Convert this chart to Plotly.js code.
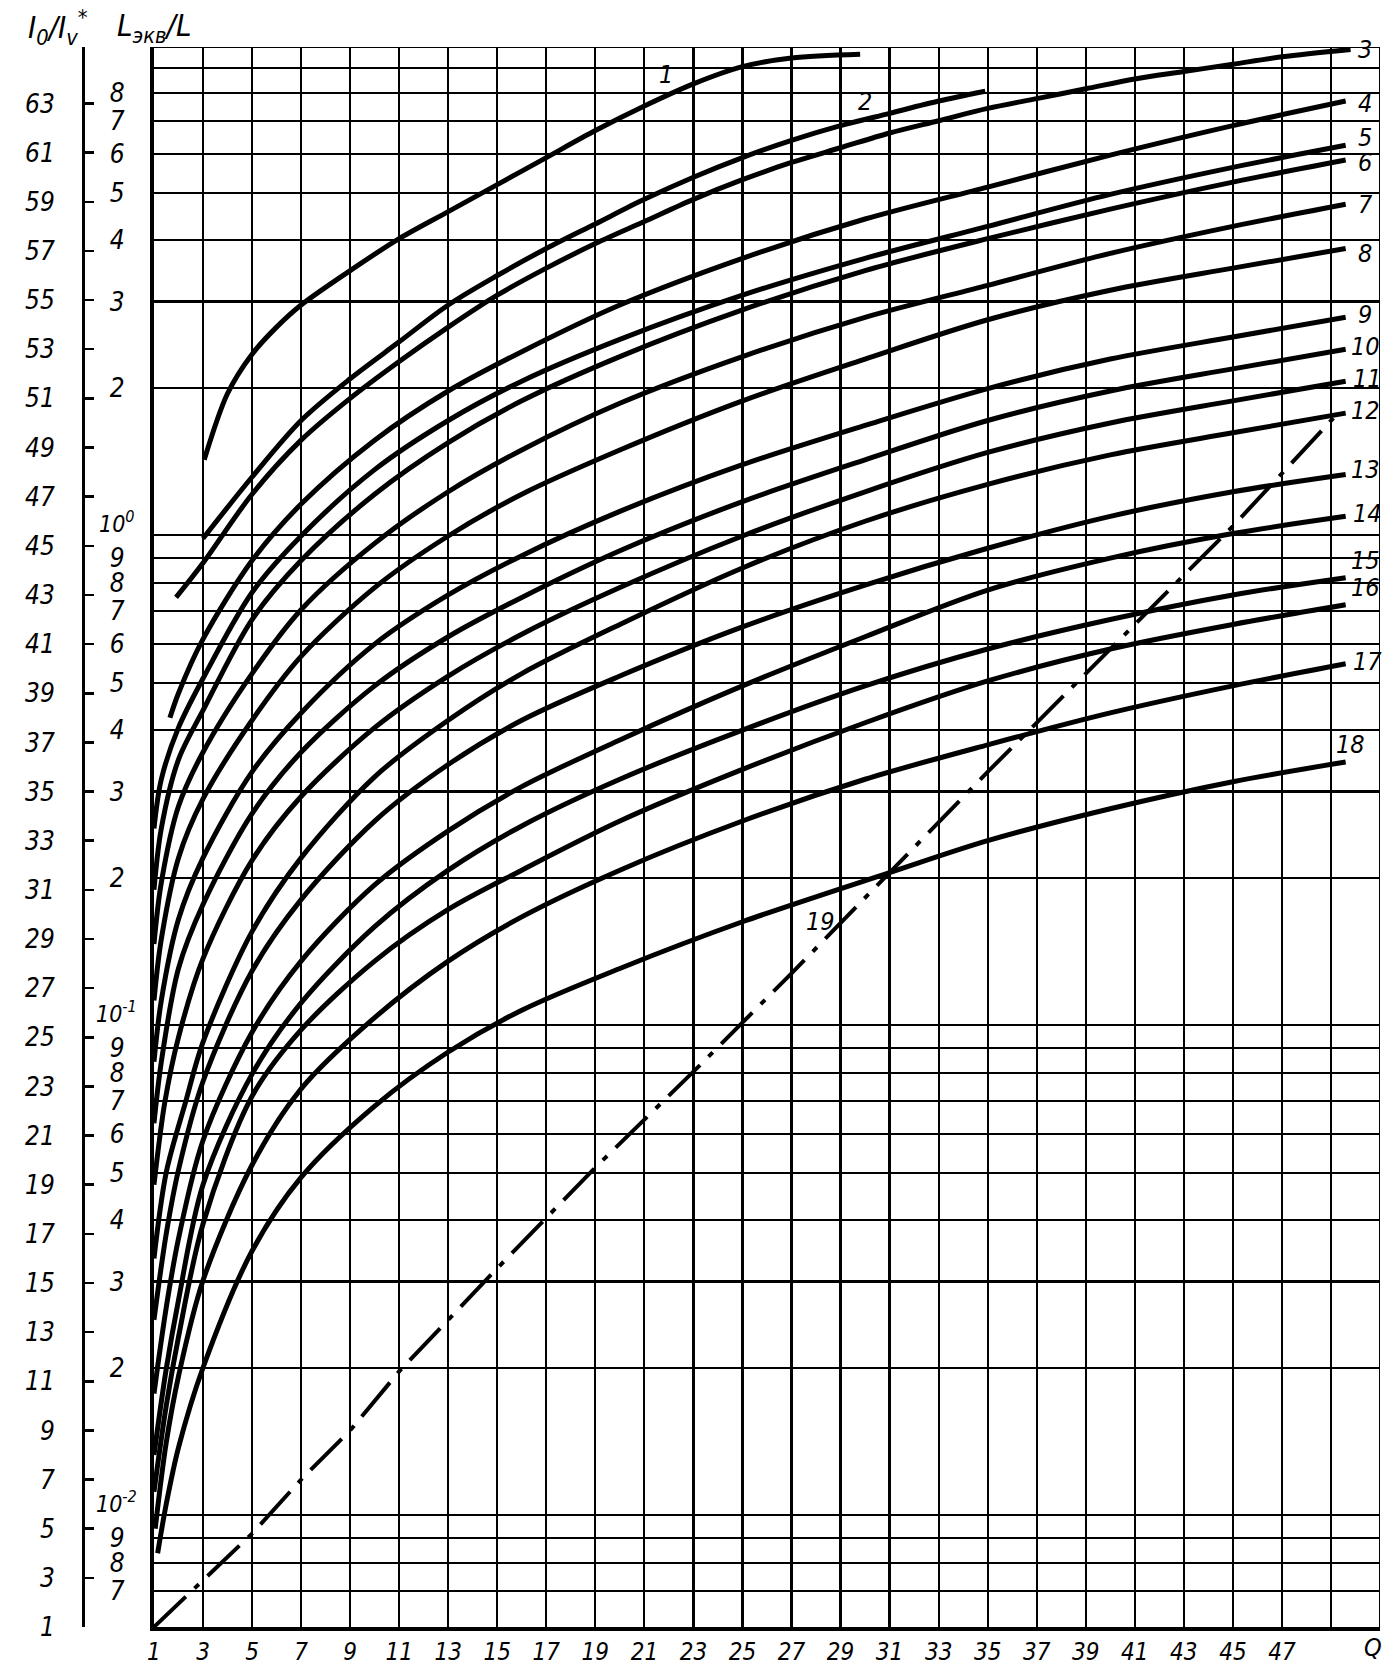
<!DOCTYPE html>
<html><head><meta charset="utf-8">
<script src="https://cdn.plot.ly/plotly-3.0.1.min.js"></script>
<style>html,body{margin:0;padding:0;background:#fff}#chart{width:1390px;height:1668px}</style>
</head><body><div id="chart"></div>
<script>
// ---- axis ticks ----
const xTickVals = [1,3,5,7,9,11,13,15,17,19,21,23,25,27,29,31,33,35,37,39,41,43,45,47,49];
const xTickText = ['1','3','5','7','9','11','13','15','17','19','21','23','25','27','29','31','33','35','37','39','41','43','45','47',''];
const ioTickVals = [1,3,5,7,9,11,13,15,17,19,21,23,25,27,29,31,33,35,37,39,41,43,45,47,49,51,53,55,57,59,61,63,65.3];
const ioTickText = ['1','3','5','7','9','11','13','15','17','19','21','23','25','27','29','31','33','35','37','39','41','43','45','47','49','51','53','55','57','59','61','63',''];
const lTickVals = [0.007,0.008,0.009,0.01,0.02,0.03,0.04,0.05,0.06,0.07,0.08,0.09,0.1,0.2,0.3,0.4,0.5,0.6,0.7,0.8,0.9,1,2,3,4,5,6,7,8,9];
const lTickText = ['7','8','9','','2','3','4','5','6','7','8','9','','2','3','4','5','6','7','8','9','','2','3','4','5','6','7','8',''];
const decadeVals = [0.01, 0.1, 1];
const decadeText = ['10<sup>-2</sup>','10<sup>-1</sup>','10<sup>0</sup>'];

// ---- curves (values on the I0/Iv* scale) ----
const c1x = [3.05,4,5,6,7,9,11,13,15,17,19,21,23,25,27,29.8];
const c1y = [48.5,51.2,52.8,53.9,54.8,56.2,57.5,58.6,59.7,60.8,61.9,62.9,63.8,64.5,64.85,65.0];
const c2x = [3,5,7,9,11,13,15,17,19,21,23,25,27,29,31,33,34.9];
const c2y = [45.3,47.8,50.1,51.8,53.3,54.8,56.0,57.1,58.1,59.1,60.0,60.8,61.5,62.1,62.6,63.1,63.5];
const c3x = [1.9,3,5,7,9,11,13,15,17,19,21,23,25,27,29,31,33,35,37,39,41,43,45,47,49.8];
const c3y = [42.9,44.3,47.1,49.3,51.0,52.5,53.9,55.2,56.3,57.3,58.2,59.1,59.9,60.6,61.2,61.8,62.3,62.8,63.2,63.6,64.0,64.3,64.6,64.9,65.2];
const c4x = [1.65,2,3,5,7,10,13,16,20,25,30,35,40,45,49.6];
const c4y = [38.0,39.0,41.2,44.4,46.7,49.3,51.3,52.9,54.8,56.7,58.3,59.6,60.9,62.1,63.1];
const xStd = [1,1.3,2,3,5,7,10,13,16,20,25,30,35,40,45,49.6];
const c5y = [33.5,35.5,37.6,39.6,43.1,45.4,48.1,50.1,51.7,53.4,55.2,56.7,58.0,59.3,60.4,61.3];
const c6y = [31.0,33.5,36.3,38.3,42.0,44.4,47.1,49.2,50.9,52.7,54.6,56.2,57.5,58.7,59.8,60.7];
const c7y = [28.8,31.3,34.4,36.6,39.8,42.4,45.1,47.2,48.9,50.8,52.7,54.3,55.6,56.9,58.0,58.9];
const c8y = [26.5,29.0,32.3,34.7,37.9,40.5,43.3,45.4,47.1,48.9,50.9,52.6,54.2,55.4,56.3,57.1];
const c9y = [24.0,26.5,29.8,32.3,35.8,38.2,41.0,43.0,44.6,46.4,48.3,49.9,51.4,52.6,53.5,54.3];
const c10y = [21.5,24.0,27.8,30.4,34.1,36.6,39.3,41.3,42.9,44.8,46.8,48.5,50.1,51.3,52.2,53.0];
const c11x = [1,1.45,2,3,5,7,10,13,16,20,25,30,35,40,45,49.6];
const c11y = [19.0,22.4,25.0,28.2,32.2,34.8,37.6,39.7,41.4,43.3,45.4,47.2,48.8,50.0,50.9,51.7];
const c12x = [1,1.5,2.3,3,5,7,10,13,16,20,25,30,35,40,45,49.6];
const c12y = [16.0,19.5,22.4,24.8,29.3,32.3,35.6,37.9,39.8,41.8,44.1,46.0,47.5,48.7,49.6,50.4];
const xLow = [1,1.5,2,3,5,7,10,13,16,20,25,30,35,40,45,49.6];
const c13y = [13.5,17.0,19.6,23.2,27.7,30.6,33.8,36.1,37.9,39.7,41.7,43.4,44.9,46.2,47.2,47.9];
const c14y = [10.5,14.0,16.8,20.8,25.2,28.1,31.2,33.4,35.2,37.1,39.3,41.3,43.2,44.5,45.5,46.2];
const c15y = [8.0,11.5,14.3,19.0,23.5,26.4,29.5,31.8,33.6,35.5,37.5,39.3,40.8,42.0,43.0,43.7];
const c16y = [6.5,10.0,12.8,17.4,22.6,25.3,28.1,30.2,31.8,33.8,35.9,37.8,39.5,40.8,41.8,42.6];
const c17x = [1.05,1.5,2,3,5,7,10,13,16,20,25,30,35,40,45,49.6];
const c17y = [5.0,8.5,11.2,15.1,19.8,22.9,25.8,28.1,29.9,31.8,33.8,35.5,36.9,38.2,39.3,40.2];
const c18x = [1.15,1.5,2,3,5,7,10,13,16,20,25,31,35,40,45,49.6];
const c18y = [4.0,6.0,8.3,11.55,16.3,19.3,22.2,24.4,26.1,27.8,29.7,31.7,33.0,34.3,35.4,36.2];
const c19x = [1,3,5,7,9,11,15,19,23,27,31,35,39,41,45,49.1];
const c19y = [1,2.9,4.8,7.0,9.0,11.4,15.6,19.7,23.6,27.6,31.7,35.8,39.8,41.8,45.8,50.2];

// ---- curve labels ----
const labelText = ['1','2','3','4','5','6','7','8','9','10','11','12','13','14','15','16','17','18','19'];
const labelX = [21.9,30.0,50.4,50.4,50.4,50.4,50.4,50.4,50.4,50.4,50.5,50.4,50.4,50.5,50.4,50.4,50.5,49.8,28.2];
const labelY = [64.2,63.1,65.2,63.0,61.6,60.6,58.9,56.9,54.4,53.1,51.8,50.5,48.1,46.3,44.4,43.3,40.3,36.9,29.7];

const curves = [
  [c1x,c1y],[c2x,c2y],[c3x,c3y],[c4x,c4y],[xStd,c5y],[xStd,c6y],[xStd,c7y],[xStd,c8y],[xStd,c9y],[xStd,c10y],
  [c11x,c11y],[c12x,c12y],[xLow,c13y],[xLow,c14y],[xLow,c15y],[xLow,c16y],[c17x,c17y],[c18x,c18y]
];

const FONT = 'DejaVu Sans Condensed, DejaVu Sans, Liberation Sans Narrow, sans-serif';
const tickFont = {family: FONT, size: 26, color: '#000', style: 'italic'};
const xFont = {family: FONT, size: 24, color: '#000', style: 'italic'};
const labFont = {family: FONT, size: 25, color: '#000', style: 'italic'};

const traces = curves.map(c => ({
  x: c[0], y: c[1], type: 'scatter', mode: 'lines', hoverinfo: 'skip', showlegend: false,
  line: {color: '#000', width: 5, shape: 'spline', smoothing: 0.9}
}));
traces.push({x: c19x, y: c19y, type: 'scatter', mode: 'lines', hoverinfo: 'skip', showlegend: false,
  line: {color: '#000', width: 4, dash: '44px,12px,6px,12px'}});
traces.push({x: [1], y: [1], yaxis: 'y2', type: 'scatter', mode: 'markers', marker: {opacity: 0}, hoverinfo: 'skip', showlegend: false});

// calibration of the L_eq/L log scale against the linear I0/Iv* scale
const LOG_A = 45.43, LOG_B = 19.94, Y_MIN = 1, Y_MAX = 65.3;
const logRange = [(Y_MIN - LOG_A) / LOG_B, (Y_MAX - LOG_A) / LOG_B];

const annotations = labelText.map((t, i) => ({
  x: labelX[i], y: labelY[i], xref: 'x', yref: 'y', text: t, showarrow: false, font: labFont
}));
decadeVals.forEach((v, i) => annotations.push({
  x: 0.071, y: Math.log10(v), xref: 'paper', yref: 'y2', xanchor: 'center', yanchor: 'bottom', yshift: -3,
  borderpad: 0, text: decadeText[i], showarrow: false, font: {family: FONT, size: 23, color: '#000', style: 'italic'}
}));
annotations.push({x: 50.7, y: 0, xref: 'x', yref: 'paper', yanchor: 'top', yshift: -4, text: 'Q', showarrow: false,
  font: {family: FONT, size: 25, color: '#000', style: 'italic'}});
annotations.push({x: 0.028, y: 1.0125, xref: 'paper', yref: 'paper', xanchor: 'center', yanchor: 'middle',
  text: 'I<sub>0</sub>/I<sub>v</sub><sup>*</sup>', showarrow: false,
  font: {family: FONT, size: 31, color: '#000', style: 'italic'}});
annotations.push({x: 0.0985, y: 1.0125, xref: 'paper', yref: 'paper', xanchor: 'center', yanchor: 'middle',
  text: 'L<sub>экв</sub>/L', showarrow: false,
  font: {family: FONT, size: 31, color: '#000', style: 'italic'}});

const layout = {
  width: 1390, height: 1668,
  margin: {l: 20, r: 10, t: 47, b: 41},
  paper_bgcolor: '#fff', plot_bgcolor: '#fff',
  showlegend: false,
  xaxis: {
    domain: [0.0985, 1], range: [1, 51], tickmode: 'array', tickvals: xTickVals, ticktext: xTickText,
    showgrid: true, gridcolor: '#000', gridwidth: 2.2, showline: true, linecolor: '#000', linewidth: 4,
    ticks: '', zeroline: false, tickfont: xFont, ticklabelstandoff: 0, fixedrange: true
  },
  yaxis: {
    range: [Y_MIN, Y_MAX], anchor: 'free', position: 0.0463, side: 'left',
    tickmode: 'array', tickvals: ioTickVals, ticktext: ioTickText,
    ticks: 'inside', ticklen: 9, tickwidth: 2.5, tickcolor: '#000',
    showline: true, linecolor: '#000', linewidth: 3, showgrid: false, zeroline: false,
    tickfont: tickFont, ticklabelstandoff: 22, fixedrange: true
  },
  yaxis2: {
    overlaying: 'y', anchor: 'x', side: 'left', type: 'log', range: logRange,
    tickmode: 'array', tickvals: lTickVals, ticktext: lTickText,
    showgrid: true, gridcolor: '#000', gridwidth: 2.2, showline: true, linecolor: '#000', linewidth: 4,
    ticks: '', zeroline: false, tickfont: tickFont, ticklabelstandoff: 20, fixedrange: true
  },
  shapes: [
    {type: 'line', xref: 'x', yref: 'y', x0: 1, x1: 51, y0: Y_MAX, y1: Y_MAX, line: {color: '#000', width: 2}},
    {type: 'line', xref: 'x', yref: 'y', x0: 51, x1: 51, y0: Y_MIN, y1: Y_MAX, line: {color: '#000', width: 2}}
  ],
  annotations: annotations
};

Plotly.newPlot('chart', traces, layout, {displayModeBar: false, staticPlot: true});
</script></body></html>
